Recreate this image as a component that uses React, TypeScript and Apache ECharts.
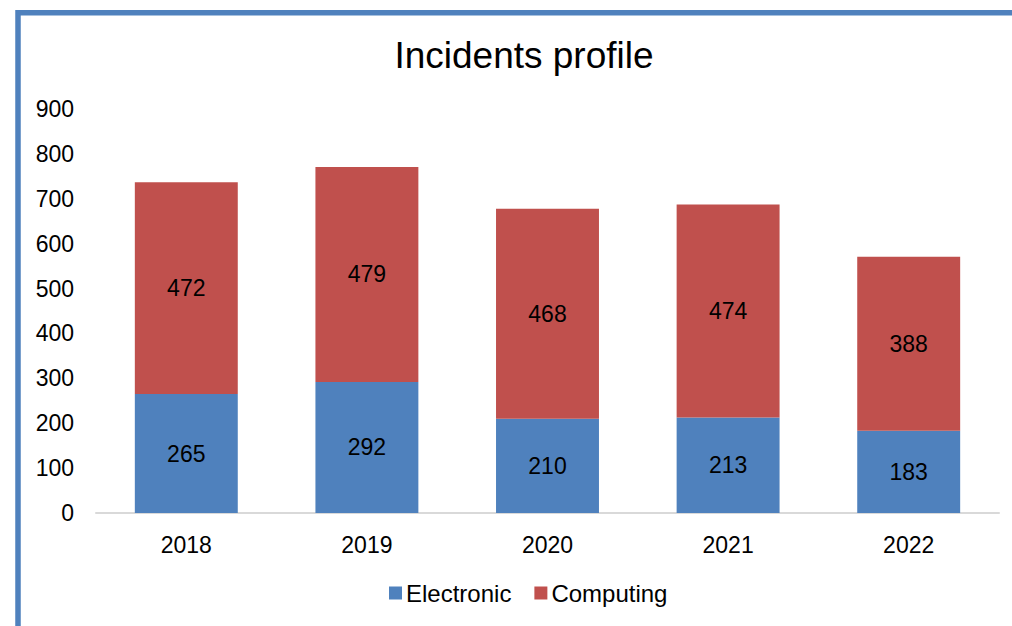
import React, { useEffect, useRef } from "react";
import * as echarts from "echarts";

const categories = ["2018", "2019", "2020", "2021", "2022"];
const electronic = [265, 292, 210, 213, 183];
const computing = [472, 479, 468, 474, 388];
const titleText = "Incidents profile";

export default function App() {
  const ref = useRef<HTMLDivElement>(null);
  useEffect(() => {
    document.body.style.margin = "0";
    const chart = echarts.init(ref.current!, null, { renderer: "svg" });
    const font = "'Liberation Sans', Arial, sans-serif";
    chart.setOption({
      animation: false,
      backgroundColor: "#ffffff",
      title: {
        text: titleText,
        left: 519,
        textAlign: "center",
        top: 32,
        textStyle: { fontFamily: font, fontSize: 37, fontWeight: "normal", color: "#000" },
      },
      graphic: [
        {
          type: "rect",
          shape: { x: 18, y: 12.8, width: 1200, height: 800 },
          style: { fill: "none", stroke: "#4F81BD", lineWidth: 5.5 },
          silent: true,
        },
      ],
      legend: {
        top: 576,
        left: 384,
        itemWidth: 13,
        itemHeight: 13,
        itemGap: 23,
        icon: "rect",
        textStyle: { fontFamily: font, fontSize: 24, color: "#000", padding: [0, 0, 0, -1] },
        data: ["Electronic", "Computing"],
      },
      grid: { left: 96, right: 13, top: 109, bottom: 113 },
      xAxis: {
        type: "category",
        data: categories,
        axisLine: { lineStyle: { color: "#D9D9D9", width: 2 } },
        axisTick: { show: false },
        axisLabel: { fontFamily: font, fontSize: 23, color: "#000", margin: 20 },
      },
      yAxis: {
        type: "value",
        min: 0,
        max: 900,
        interval: 100,
        splitLine: { show: false },
        axisLine: { show: false },
        axisTick: { show: false },
        axisLabel: { fontFamily: font, fontSize: 23, color: "#000", margin: 22 },
      },
      series: [
        {
          name: "Electronic",
          type: "bar",
          stack: "total",
          data: electronic,
          barWidth: "57%",
          itemStyle: { color: "#4F81BD" },
          label: { show: true, position: "inside", fontFamily: font, fontSize: 23, color: "#000" },
        },
        {
          name: "Computing",
          type: "bar",
          stack: "total",
          data: computing,
          barWidth: "57%",
          itemStyle: { color: "#C0504D" },
          label: { show: true, position: "inside", fontFamily: font, fontSize: 23, color: "#000" },
        },
      ],
    });
    return () => chart.dispose();
  }, []);
  return <div ref={ref} style={{ width: 1012, height: 626, position: "absolute", left: 0, top: 0 }} />;
}
